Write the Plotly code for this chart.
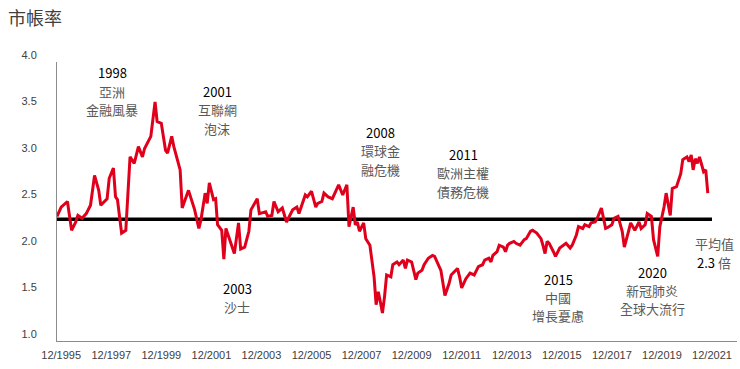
import plotly.graph_objects as go

# ---------------- data ----------------
dates = [
    "1995-10", "1995-12", "1996-03", "1996-05", "1996-07", "1996-08", "1996-10", "1996-12",
    "1997-02", "1997-04", "1997-06", "1997-07", "1997-10", "1997-11", "1998-01", "1998-02",
    "1998-03", "1998-05", "1998-07", "1998-09", "1998-11", "1999-01", "1999-03", "1999-04",
    "1999-07", "1999-09", "1999-10", "1999-12", "2000-02", "2000-03", "2000-05", "2000-06",
    "2000-09", "2000-10", "2001-01", "2001-02", "2001-04", "2001-06", "2001-07", "2001-09",
    "2001-10", "2001-11", "2002-01", "2002-02", "2002-03", "2002-05", "2002-06", "2002-07",
    "2002-10", "2002-11", "2003-01", "2003-02", "2003-04", "2003-06", "2003-07", "2003-10",
    "2003-11", "2004-02", "2004-03", "2004-05", "2004-06", "2004-08", "2004-10", "2004-12",
    "2005-03", "2005-05", "2005-06", "2005-09", "2005-10", "2005-12", "2006-02", "2006-03",
    "2006-05", "2006-06", "2006-08", "2006-10", "2007-01", "2007-03", "2007-05", "2007-06",
    "2007-08", "2007-09", "2007-10", "2007-11", "2008-01", "2008-02", "2008-04", "2008-06",
    "2008-07", "2008-08", "2008-09", "2008-10", "2008-11", "2008-12", "2009-02", "2009-03",
    "2009-05", "2009-06", "2009-08", "2009-09", "2009-10", "2009-12", "2010-02", "2010-03",
    "2010-05", "2010-06", "2010-08", "2010-10", "2010-11", "2011-01", "2011-02", "2011-04",
    "2011-06", "2011-07", "2011-10", "2011-11", "2011-12", "2012-02", "2012-04", "2012-06",
    "2012-08", "2012-10", "2012-11", "2013-01", "2013-02", "2013-03", "2013-05", "2013-06",
    "2013-08", "2013-09", "2013-10", "2013-11", "2014-01", "2014-02", "2014-04", "2014-06",
    "2014-07", "2014-09", "2014-10", "2014-12", "2015-02", "2015-03", "2015-04", "2015-05",
    "2015-06", "2015-08", "2015-09", "2015-11", "2016-01", "2016-02", "2016-04", "2016-05",
    "2016-07", "2016-08", "2016-10", "2016-11", "2017-01", "2017-02", "2017-04", "2017-05",
    "2017-07", "2017-09", "2017-10", "2017-12", "2018-01", "2018-03", "2018-05", "2018-06",
    "2018-08", "2018-09", "2018-11", "2019-01", "2019-02", "2019-04", "2019-05", "2019-07",
    "2019-08", "2019-10", "2019-11", "2020-01", "2020-02", "2020-04", "2020-05", "2020-07",
    "2020-09", "2020-10", "2020-12", "2021-01", "2021-02", "2021-03", "2021-04", "2021-05",
    "2021-06", "2021-08", "2021-09", "2021-10",
]
pb_ratio = [
    2.34, 2.44, 2.50, 2.19, 2.28, 2.35, 2.32, 2.37,
    2.46, 2.78, 2.62, 2.46, 2.53, 2.75, 2.86, 2.55,
    2.52, 2.16, 2.19, 2.98, 2.91, 3.09, 2.98, 3.07,
    3.20, 3.57, 3.36, 3.34, 3.05, 3.02, 3.20, 3.09,
    2.84, 2.43, 2.62, 2.55, 2.41, 2.21, 2.30, 2.59,
    2.48, 2.70, 2.52, 2.53, 2.25, 2.19, 1.88, 2.21,
    2.01, 1.94, 2.27, 1.99, 2.01, 2.18, 2.41, 2.53,
    2.37, 2.39, 2.34, 2.35, 2.50, 2.39, 2.43, 2.28,
    2.41, 2.44, 2.37, 2.57, 2.55, 2.61, 2.44, 2.48,
    2.50, 2.59, 2.55, 2.53, 2.68, 2.57, 2.68, 2.23,
    2.44, 2.25, 2.28, 2.18, 2.27, 2.10, 2.03, 1.69,
    1.39, 1.53, 1.42, 1.30, 1.48, 1.71, 1.69, 1.82,
    1.85, 1.82, 1.87, 1.78, 1.87, 1.85, 1.66, 1.73,
    1.76, 1.82, 1.89, 1.92, 1.91, 1.82, 1.76, 1.49,
    1.62, 1.71, 1.78, 1.69, 1.57, 1.67, 1.73, 1.71,
    1.80, 1.82, 1.87, 1.89, 1.85, 1.92, 1.96, 2.03,
    2.01, 1.96, 2.03, 2.05, 2.07, 2.05, 2.03, 2.09,
    2.10, 2.18, 2.19, 2.16, 2.10, 2.03, 1.94, 2.07,
    2.05, 1.96, 1.91, 2.00, 2.03, 2.05, 2.00, 2.03,
    2.14, 2.23, 2.21, 2.25, 2.23, 2.27, 2.28, 2.32,
    2.43, 2.21, 2.22, 2.25, 2.32, 2.34, 2.18, 2.01,
    2.18, 2.27, 2.19, 2.28, 2.21, 2.25, 2.37, 2.34,
    2.09, 1.91, 2.23, 2.44, 2.59, 2.35, 2.64, 2.66,
    2.80, 2.95, 2.98, 2.93, 3.00, 2.84, 2.96, 2.91,
    2.98, 2.82, 2.84, 2.59,
]

average_value = 2.31
average_span = ["1995-10-01", "2021-12-01"]

x_tick_dates = ["1995-12-01", "1997-12-01", "1999-12-01", "2001-12-01", "2003-12-01",
                "2005-12-01", "2007-12-01", "2009-12-01", "2011-12-01", "2013-12-01",
                "2015-12-01", "2017-12-01", "2019-12-01", "2021-12-01"]
x_tick_labels = ["12/1995", "12/1997", "12/1999", "12/2001", "12/2003", "12/2005",
                 "12/2007", "12/2009", "12/2011", "12/2013", "12/2015", "12/2017",
                 "12/2019", "12/2021"]
y_tick_values = [1.0, 1.5, 2.0, 2.5, 3.0, 3.5, 4.0]
y_tick_labels = ["1.0", "1.5", "2.0", "2.5", "3.0", "3.5", "4.0"]

title_text = "市帳率"
event_labels = [
    ["1998", "亞洲", "金融風暴"],
    ["2001", "互聯網", "泡沫"],
    ["2008", "環球金", "融危機"],
    ["2011", "歐洲主權", "債務危機"],
    ["2003", "沙士"],
    ["2015", "中國", "增長憂慮"],
    ["2020", "新冠肺炎", "全球大流行"],
]
average_label = ["平均值", "2.3 倍"]

# ---------------- layout geometry (pixels) ----------------
W, H = 740, 369
L, R, T, B = 57, 3, 62, 28
PW, PH = W - L - R, H - T - B

def px_x(px):
    return (px - L) / PW

def px_y(py):
    return (H - B - py) / PH

event_pos = [  # centre x, y of each line
    (112, [72, 91, 109]),
    (217, [91, 110, 128]),
    (380, [132, 150, 169]),
    (463, [154, 172, 191]),
    (237, [288, 306]),
    (558, [279, 297, 315]),
    (652, [272, 290, 308]),
]
avg_pos = (714, [243, 262])

CJK = "Noto Sans CJK TC"
GREY = "#595959"

fig = go.Figure()
fig.add_trace(go.Scatter(
    x=average_span, y=[average_value, average_value], mode="lines",
    line=dict(color="#000000", width=3.5), hoverinfo="skip", showlegend=False))
fig.add_trace(go.Scatter(
    x=dates, y=pb_ratio, mode="lines",
    line=dict(color="#E0001B", width=3), showlegend=False))

annotations = []
for lines, (cx, ys) in zip(event_labels, event_pos):
    for i, (txt, yy) in enumerate(zip(lines, ys)):
        annotations.append(dict(
            x=px_x(cx), y=px_y(yy), xref="paper", yref="paper",
            text=txt, showarrow=False, xanchor="center", yanchor="middle",
            font=dict(family=CJK, size=13, color="#000000" if i == 0 else GREY)))
for i, (txt, yy) in enumerate(zip(average_label, avg_pos[1])):
    if i == 1:
        num, unit = txt.split(" ")
        txt = f"<span style='color:#000000'>{num}</span> {unit}"
    annotations.append(dict(
        x=px_x(avg_pos[0]), y=px_y(yy), xref="paper", yref="paper",
        text=txt, showarrow=False, xanchor="center", yanchor="middle",
        font=dict(family=CJK, size=13, color=GREY)))
annotations.append(dict(
    x=px_x(6), y=px_y(17), xref="paper", yref="paper", text=title_text,
    showarrow=False, xanchor="left", yanchor="middle",
    font=dict(family=CJK, size=18, color="#404040")))

fig.update_layout(
    width=W, height=H,
    margin=dict(l=L, r=R, t=T, b=B, pad=0),
    paper_bgcolor="white", plot_bgcolor="white",
    showlegend=False,
    annotations=annotations,
    xaxis=dict(
        type="date", range=["1995-10-01", "2022-12-01"],
        tickmode="array", tickvals=x_tick_dates, ticktext=x_tick_labels,
        showline=True, linecolor="#8c8c8c", linewidth=1,
        showgrid=False, zeroline=False, ticks="",
        tickfont=dict(family="Liberation Sans", size=11, color="#404040"),
        ticklabelstandoff=4,
    ),
    yaxis=dict(
        range=[1, 4], tickmode="array", tickvals=y_tick_values, ticktext=y_tick_labels,
        showline=True, linecolor="#8c8c8c", linewidth=1,
        showgrid=False, zeroline=False, ticks="",
        tickfont=dict(family="Liberation Sans", size=11, color="#404040"),
        ticklabelshift=-7, ticklabelstandoff=17,
    ),
)

fig.write_html(
    "out.html",
    config={"displayModeBar": False},
    post_script="document.body.style.margin='0px';document.body.style.overflow='hidden';",
)
